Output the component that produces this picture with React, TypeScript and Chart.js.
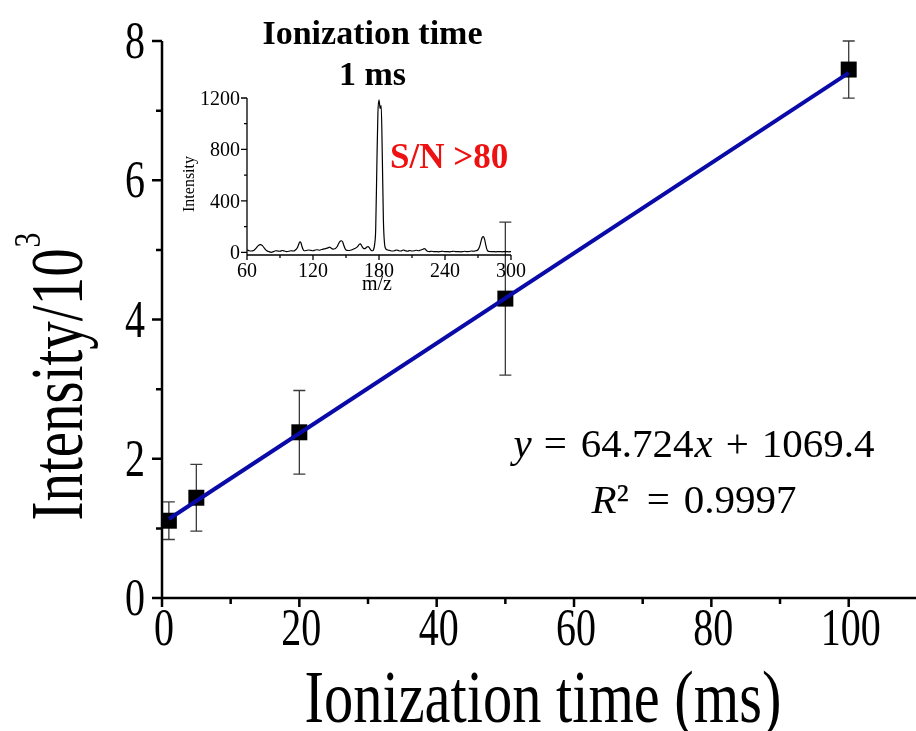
import React, { useEffect, useRef } from 'react';
import { Chart, registerables } from 'chart.js';
Chart.register(...registerables);

// ---- main chart data ----
const timeMs = [1, 5, 20, 50, 100];
const intensityK = [1.11, 1.44, 2.38, 4.3, 7.59];
const errorK = [0.27, 0.48, 0.6, 1.1, 0.41];
const fitSlope = 0.064724;
const fitIntercept = 1.0694;
const fitX = [1, 100];
const xTicks = [0, 20, 40, 60, 80, 100];
const xMinorTicks = [10, 30, 50, 70, 90];
const yTicks = [0, 2, 4, 6, 8];
const yMinorTicks = [1, 3, 5, 7];

// ---- inset spectrum data ----
const specMz = [60, 62, 64, 66, 68, 70, 72, 74, 76, 78, 80, 82, 84, 86, 88, 90, 92, 94, 96, 98, 100, 102, 104, 106, 107, 108, 109, 110, 111, 112, 114, 116, 118, 120, 122, 124, 126, 128, 130, 132, 134, 135, 136, 138, 140, 142, 143, 144, 145, 146, 147, 148, 149, 150, 152, 154, 156, 158, 160, 161, 162, 163, 164, 165, 166, 167, 168, 169, 170, 171, 172, 173, 174, 175, 176, 177, 178, 179, 180, 181, 182, 183, 184, 185, 186, 188, 190, 192, 194, 196, 198, 200, 202, 204, 206, 208, 210, 212, 214, 216, 218, 220, 221, 222, 223, 224, 226, 228, 230, 232, 234, 236, 238, 240, 242, 244, 246, 248, 250, 252, 254, 256, 258, 260, 262, 264, 266, 268, 270, 271, 272, 273, 274, 275, 276, 277, 278, 279, 280, 282, 284, 286, 288, 290, 292, 294, 296, 298, 300];
const specInt = [20, 12, 10, 14, 30, 50, 60, 52, 30, 12, 5, 0, 5, 12, 10, 8, 14, 10, 6, 8, 12, 10, 18, 40, 62, 82, 75, 45, 22, 12, 14, 18, 15, 12, 18, 20, 16, 22, 26, 30, 36, 40, 36, 25, 28, 45, 62, 78, 88, 90, 80, 55, 32, 18, 14, 16, 22, 30, 40, 50, 62, 66, 55, 40, 30, 28, 34, 42, 44, 38, 25, 14, 12, 20, 60, 180, 650, 1080, 1185, 1120, 1140, 750, 250, 70, 30, 18, 14, 10, 12, 18, 12, 10, 18, 12, 8, 14, 10, 12, 16, 12, 18, 24, 28, 25, 16, 8, 6, 8, 5, 6, 4, 6, 8, 5, 6, 4, 6, 8, 5, 6, 4, 5, 8, 5, 6, 10, 8, 12, 20, 35, 60, 95, 118, 122, 100, 60, 25, 10, 6, 5, 6, 4, 5, 6, 4, 6, 5, 4, 5];
const insetXTicks = [60, 120, 180, 240, 300];
const insetXMinor = [90, 150, 210, 270];
const insetYTicks = [0, 400, 800, 1200];
const insetYMinor = [200, 600, 1000];

const SERIF = "'Liberation Serif', 'Times New Roman', serif";

function drawText(ctx: CanvasRenderingContext2D, text: string, x: number, y: number, font: string, align: CanvasTextAlign, sx = 1, color = '#000') {
  ctx.save();
  ctx.font = font;
  ctx.fillStyle = color;
  ctx.textBaseline = 'alphabetic';
  ctx.translate(x, y);
  ctx.scale(sx, 1);
  ctx.textAlign = align;
  ctx.fillText(text, 0, 0);
  ctx.restore();
}

// draws a row of [text, font, gapAfter] pieces centred on cx
function drawRow(ctx: CanvasRenderingContext2D, pieces: [string, string, number][], cx: number, y: number) {
  ctx.save();
  let total = 0;
  const widths = pieces.map(([t, f, g]) => { ctx.font = f; const w = ctx.measureText(t).width; total += w + g; return w; });
  let x = cx - total / 2;
  ctx.fillStyle = '#000';
  ctx.textAlign = 'left';
  ctx.textBaseline = 'alphabetic';
  pieces.forEach(([t, f, g], i) => { ctx.font = f; ctx.fillText(t, x, y); x += widths[i] + g; });
  ctx.restore();
}

const mainPlugin = {
  id: 'mainDeco',
  beforeDatasetsDraw(chart: any) {
    const ctx = chart.ctx as CanvasRenderingContext2D;
    const xs = chart.scales.x, ys = chart.scales.y;
    const area = chart.chartArea;
    const x0 = xs.getPixelForValue(0);
    const y0 = ys.getPixelForValue(0);
    ctx.save();
    ctx.strokeStyle = '#000';
    ctx.lineWidth = 2.5;
    ctx.beginPath();
    ctx.moveTo(x0 - 10, y0);
    ctx.lineTo(area.right, y0);
    ctx.moveTo(x0, ys.getPixelForValue(8));
    ctx.lineTo(x0, y0 + 9);
    xTicks.forEach(v => { const p = xs.getPixelForValue(v); ctx.moveTo(p, y0); ctx.lineTo(p, y0 + 9); });
    xMinorTicks.forEach(v => { const p = xs.getPixelForValue(v); ctx.moveTo(p, y0); ctx.lineTo(p, y0 + 6); });
    yTicks.forEach(v => { const p = ys.getPixelForValue(v); ctx.moveTo(x0, p); ctx.lineTo(x0 - 10, p); });
    yMinorTicks.forEach(v => { const p = ys.getPixelForValue(v); ctx.moveTo(x0, p); ctx.lineTo(x0 - 6, p); });
    ctx.stroke();
    // error bars
    ctx.strokeStyle = '#3a3a3a';
    ctx.lineWidth = 1.3;
    ctx.beginPath();
    timeMs.forEach((t, i) => {
      const px = xs.getPixelForValue(t);
      const top = ys.getPixelForValue(intensityK[i] + errorK[i]);
      const bot = ys.getPixelForValue(intensityK[i] - errorK[i]);
      ctx.moveTo(px, top); ctx.lineTo(px, bot);
      ctx.moveTo(px - 6, top); ctx.lineTo(px + 6, top);
      ctx.moveTo(px - 6, bot); ctx.lineTo(px + 6, bot);
    });
    ctx.stroke();
    ctx.restore();
  },
  afterDraw(chart: any) {
    const ctx = chart.ctx as CanvasRenderingContext2D;
    const xs = chart.scales.x, ys = chart.scales.y;
    const y0 = ys.getPixelForValue(0);
    const x0 = xs.getPixelForValue(0);
    const tickFont = `52px ${SERIF}`;
    xTicks.forEach(v => drawText(ctx, String(v), xs.getPixelForValue(v) + 2, y0 + 47, tickFont, 'center', 0.77));
    yTicks.forEach(v => drawText(ctx, String(v), x0 - 17, ys.getPixelForValue(v) + 17, tickFont, 'right', 0.77));
    // x title
    drawText(ctx, 'Ionization time (ms)', 543, 722, `73px ${SERIF}`, 'center', 0.8);
    // y title
    ctx.save();
    ctx.translate(82, 377);
    ctx.rotate(-Math.PI / 2);
    ctx.scale(0.78, 1);
    ctx.font = `73px ${SERIF}`;
    const main = 'Intensity/10';
    const w1 = ctx.measureText(main).width;
    ctx.font = `38px ${SERIF}`;
    const w3 = ctx.measureText('3').width;
    const start = -(w1 + w3) / 2;
    ctx.fillStyle = '#000';
    ctx.textAlign = 'left';
    ctx.font = `73px ${SERIF}`;
    ctx.fillText(main, start, 0);
    ctx.font = `38px ${SERIF}`;
    ctx.fillText('3', start + w1 + 1, -42);
    ctx.restore();
    // equation
    const eqF = `41px ${SERIF}`;
    const eqI = `italic 41px ${SERIF}`;
    drawRow(ctx, [['y', eqI, 12], ['=', eqF, 14], ['64.724', eqF, 1], ['x', eqI, 13], ['+', eqF, 13], ['1069.4', eqF, 0]], 694, 457);
    drawRow(ctx, [['R', eqI, 0], ['²', eqF, 18], ['=', eqF, 14], ['0.9997', eqF, 0]], 694, 513);
  }
};

const insetPlugin = {
  id: 'insetDeco',
  beforeDatasetsDraw(chart: any) {
    const ctx = chart.ctx as CanvasRenderingContext2D;
    const xs = chart.scales.x, ys = chart.scales.y;
    const area = chart.chartArea;
    const left = xs.getPixelForValue(60);
    const right = xs.getPixelForValue(300);
    const bottom = area.bottom;
    ctx.save();
    ctx.strokeStyle = '#000';
    ctx.lineWidth = 1.3;
    ctx.beginPath();
    ctx.moveTo(left, ys.getPixelForValue(1200));
    ctx.lineTo(left, bottom);
    ctx.lineTo(right, bottom);
    insetXTicks.forEach(v => { const p = xs.getPixelForValue(v); ctx.moveTo(p, bottom); ctx.lineTo(p, bottom + 5); });
    insetXMinor.forEach(v => { const p = xs.getPixelForValue(v); ctx.moveTo(p, bottom); ctx.lineTo(p, bottom + 3); });
    insetYTicks.forEach(v => { const p = ys.getPixelForValue(v); ctx.moveTo(left, p); ctx.lineTo(left - 6, p); });
    insetYMinor.forEach(v => { const p = ys.getPixelForValue(v); ctx.moveTo(left, p); ctx.lineTo(left - 3, p); });
    ctx.stroke();
    ctx.restore();
  },
  afterDraw(chart: any) {
    const ctx = chart.ctx as CanvasRenderingContext2D;
    const xs = chart.scales.x, ys = chart.scales.y;
    const left = xs.getPixelForValue(60);
    const f = `20px ${SERIF}`;
    insetXTicks.forEach(v => drawText(ctx, String(v), xs.getPixelForValue(v), 277, f, 'center'));
    insetYTicks.forEach(v => drawText(ctx, String(v), left - 7, ys.getPixelForValue(v) + 7, f, 'right'));
    drawText(ctx, 'm/z', 377, 290, `20px ${SERIF}`, 'center');
    ctx.save();
    ctx.translate(194, 184);
    ctx.rotate(-Math.PI / 2);
    ctx.font = `16px ${SERIF}`;
    ctx.fillStyle = '#000';
    ctx.textAlign = 'center';
    ctx.fillText('Intensity', 0, 0);
    ctx.restore();
    drawText(ctx, 'Ionization time', 372.5, 44, `bold 34px ${SERIF}`, 'center');
    drawText(ctx, '1 ms', 372.5, 85, `bold 34px ${SERIF}`, 'center');
    drawText(ctx, 'S/N >80', 390, 168, `bold 35px ${SERIF}`, 'left', 1, '#EE1111');
  }
};

export default function App() {
  const mainRef = useRef<HTMLCanvasElement>(null);
  const insetRef = useRef<HTMLCanvasElement>(null);

  useEffect(() => {
    const mainChart = new Chart(mainRef.current as HTMLCanvasElement, {
      type: 'scatter',
      data: {
        datasets: [
          {
            type: 'line',
            data: fitX.map(x => ({ x, y: fitSlope * x + fitIntercept })),
            borderColor: '#0A0AA8',
            borderWidth: 4,
            pointRadius: 0,
            order: 0,
          } as any,
          {
            type: 'scatter',
            data: timeMs.map((x, i) => ({ x, y: intensityK[i] })),
            pointStyle: 'rect',
            pointRadius: 11.3,
            backgroundColor: '#000',
            borderColor: '#000',
            borderWidth: 0,
            order: 1,
          } as any,
        ],
      },
      options: {
        responsive: false,
        animation: false,
        layout: { autoPadding: false, padding: { left: 162, right: 0, top: 41, bottom: 133 } },
        plugins: { legend: { display: false }, tooltip: { enabled: false } },
        scales: {
          x: { type: 'linear', min: 0, max: 109.8, display: false },
          y: { type: 'linear', min: 0, max: 8, display: false },
        },
      } as any,
      plugins: [mainPlugin],
    });

    const insetChart = new Chart(insetRef.current as HTMLCanvasElement, {
      type: 'line',
      data: {
        datasets: [
          {
            data: specMz.map((x, i) => ({ x, y: specInt[i] })),
            borderColor: '#000',
            borderWidth: 1.2,
            pointRadius: 0,
            cubicInterpolationMode: 'monotone',
          } as any,
        ],
      },
      options: {
        responsive: false,
        animation: false,
        layout: { autoPadding: false, padding: { left: 247, right: 405, top: 98, bottom: 476 } },
        plugins: { legend: { display: false }, tooltip: { enabled: false } },
        scales: {
          x: { type: 'linear', min: 60, max: 300, display: false },
          y: { type: 'linear', min: -21, max: 1200, display: false },
        },
      } as any,
      plugins: [insetPlugin],
    });

    return () => {
      mainChart.destroy();
      insetChart.destroy();
    };
  }, []);

  return (
    <div style={{ position: 'fixed', left: 0, top: 0, width: 916, height: 731, background: '#fff' }}>
      <canvas ref={mainRef} width={916} height={731} style={{ position: 'absolute', left: 0, top: 0 }} />
      <canvas ref={insetRef} width={916} height={731} style={{ position: 'absolute', left: 0, top: 0, pointerEvents: 'none' }} />
    </div>
  );
}
